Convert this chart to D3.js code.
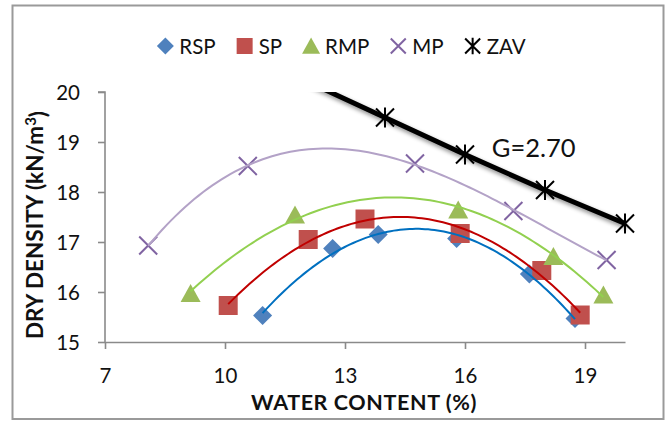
<!DOCTYPE html>
<html>
<head>
<meta charset="utf-8">
<script src="https://cdn.jsdelivr.net/npm/d3@7"></script>
<style>
  html, body { margin: 0; padding: 0; background: #fff; }
  svg { display: block; font-family: Lato, "Open Sans", sans-serif; }
</style>
</head>
<body>
<svg id="chart" width="669" height="428"></svg>
<script>
// Compaction curves: water content (%) vs dry density (kN/m3)
const seriesNames = ["RSP", "SP", "RMP", "MP", "ZAV"];

const rspWater = [10.94, 12.69, 13.83, 15.79, 17.61, 18.75];
const rspDensity = [15.53, 16.87, 17.15, 17.07, 16.36, 15.47];

const spWater = [10.08, 12.08, 13.50, 15.88, 17.92, 18.88];
const spDensity = [15.73, 17.05, 17.46, 17.17, 16.43, 15.54];

const rmpWater = [9.14, 11.75, 15.83, 18.21, 19.46];
const rmpDensity = [15.97, 17.54, 17.64, 16.71, 15.94];

const mpWater = [8.08, 10.57, 14.75, 17.21, 19.54];
const mpDensity = [16.93, 18.52, 18.57, 17.62, 16.64];

// zero-air-voids line, G = 2.70
const zavWater = [12, 14, 16, 18, 20];
const zavDensity = [20.23, 19.49, 18.75, 18.04, 17.37];

const xTicks = [7, 10, 13, 16, 19];
const yTicks = [15, 16, 17, 18, 19, 20];
const annotation = { text: "G=2.70", water: 16.67, density: 18.70 };

const svg = d3.select("#chart");
const x = d3.scaleLinear().domain([7, 20]).range([105, 625]);
const y = d3.scaleLinear().domain([15, 20]).range([342, 92]);

// chart frame
svg.append("rect")
  .attr("x", 12.5).attr("y", 5.5).attr("width", 651).attr("height", 413.5)
  .attr("fill", "#fff").attr("stroke", "#9a9a9a").attr("stroke-width", 2);

const defs = svg.append("defs");
defs.append("clipPath").attr("id", "plotClip")
  .append("rect").attr("x", x(7)).attr("y", y(20))
  .attr("width", x(20) - x(7) + 20).attr("height", y(15) - y(20));
const shadow = defs.append("filter").attr("id", "lineShadow")
  .attr("x", "-10%").attr("y", "-20%").attr("width", "130%").attr("height", "160%");
shadow.append("feDropShadow").attr("dx", 2).attr("dy", 3)
  .attr("stdDeviation", 2.2).attr("flood-color", "#000").attr("flood-opacity", 0.45);

// axes
const axisColor = "#8a8a8a";
const yAxis = svg.append("g").attr("transform", `translate(${x(7)},0)`)
  .call(d3.axisLeft(y).tickValues(yTicks).tickSize(7).tickPadding(18).tickFormat(d3.format("d")));
const xAxis = svg.append("g").attr("transform", `translate(0,${y(15)})`)
  .call(d3.axisBottom(x).tickValues(xTicks).tickSize(7).tickSizeOuter(0).tickPadding(19).tickFormat(d3.format("d")));
yAxis.call(g => g.select(".domain").attr("d", `M-7,${y(20)}H0V${y(15)}`));
[xAxis, yAxis].forEach(g => {
  g.selectAll(".domain, line").attr("stroke", axisColor).attr("stroke-width", 1.6);
  g.selectAll("text").attr("font-size", 20.5).attr("fill", "#111")
    .attr("font-family", "Lato, 'Open Sans', sans-serif");
});
yAxis.selectAll("text").attr("dy", "0.35em");

// axis titles
svg.append("text")
  .attr("x", (x(7) + x(20)) / 2 - 1).attr("y", 410)
  .attr("text-anchor", "middle").attr("font-size", 21.5).attr("font-weight", "bold")
  .attr("letter-spacing", 0.6)
  .attr("fill", "#111").text("WATER CONTENT (%)");
const yTitle = svg.append("text")
  .attr("transform", `translate(43,${(y(15) + y(20)) / 2 + 8}) rotate(-90)`)
  .attr("text-anchor", "middle").attr("font-size", 22.5).attr("font-weight", "bold")
  .attr("fill", "#111");
yTitle.append("tspan").text("DRY DENSITY (kN/m");
yTitle.append("tspan").attr("dy", "-0.45em").attr("font-size", 15).text("3");
yTitle.append("tspan").attr("dy", "0.45em").text(")");

// marker shapes
const markers = {
  diamond: r => `M0,${-r}L${r},0L0,${r}L${-r},0Z`,
  square: r => `M${-r},${-r}H${r}V${r}H${-r}Z`,
  triangle: r => `M0,${-r * 0.95}L${r},${r * 0.85}L${-r},${r * 0.85}Z`,
  cross: r => `M${-r},${-r}L${r},${r}M${-r},${r}L${r},${-r}`,
  star: r => `M${-r},${-r}L${r},${r}M${-r},${r}L${r},${-r}M0,${-r * 1.1}V${r * 1.1}`
};

const series = [
  { name: "RSP", water: rspWater, density: rspDensity, shape: "diamond", size: 9.5, legendSize: 8.5,
    fill: "#4F81BD", stroke: "none", trend: "#0070C0", order: 2 },
  { name: "SP", water: spWater, density: spDensity, shape: "square", size: 9.5, legendSize: 8,
    fill: "#C0504D", stroke: "none", trend: "#C00000", order: 2 },
  { name: "RMP", water: rmpWater, density: rmpDensity, shape: "triangle", size: 10, legendSize: 9,
    fill: "#9BBB59", stroke: "none", trend: "#92D050", order: 2 },
  { name: "MP", water: mpWater, density: mpDensity, shape: "cross", size: 9, legendSize: 7.5,
    fill: "none", stroke: "#8064A2", trend: "#B3A2C7", order: 3 },
  { name: "ZAV", water: zavWater, density: zavDensity, shape: "star", size: 9, legendSize: 7.5,
    fill: "none", stroke: "#000", trend: null }
];

// least squares polynomial trendline
function polyFit(xs, ys, order) {
  const m = order + 1;
  const A = [];
  for (let r = 0; r < m; r++) {
    const row = [];
    for (let c = 0; c < m; c++) row.push(d3.sum(xs, v => Math.pow(v, r + c)));
    row.push(d3.sum(xs, (v, i) => ys[i] * Math.pow(v, r)));
    A.push(row);
  }
  for (let c = 0; c < m; c++) {
    for (let r = c + 1; r < m; r++) {
      const f = A[r][c] / A[c][c];
      for (let k = c; k <= m; k++) A[r][k] -= f * A[c][k];
    }
  }
  const b = new Array(m).fill(0);
  for (let r = m - 1; r >= 0; r--) {
    let v = A[r][m];
    for (let k = r + 1; k < m; k++) v -= A[r][k] * b[k];
    b[r] = v / A[r][r];
  }
  return w => b.reduce((acc, coef, k) => acc + coef * Math.pow(w, k), 0);
}

const plot = svg.append("g");
const pathLine = d3.line().x(d => x(d[0])).y(d => y(d[1]));

// ZAV line
const zav = series[4];
plot.append("path")
  .attr("clip-path", "url(#plotClip)")
  .attr("d", pathLine(zav.water.map((w, i) => [w, zav.density[i]])))
  .attr("fill", "none").attr("stroke", "#000").attr("stroke-width", 5)
  .attr("stroke-linejoin", "round").attr("filter", "url(#lineShadow)");

// data markers
series.forEach(s => {
  const pts = s.water.map((w, i) => [w, s.density[i]]).filter(p => p[1] <= 20);
  plot.append("g").selectAll("path").data(pts).join("path")
    .attr("transform", d => `translate(${x(d[0])},${y(d[1])})`)
    .attr("d", markers[s.shape](s.size))
    .attr("fill", s.fill).attr("stroke", s.stroke)
    .attr("stroke-width", s.stroke === "none" ? 0 : 2);
});

// trendlines
series.filter(s => s.trend).forEach(s => {
  const f = polyFit(s.water, s.density, s.order);
  const lo = d3.min(s.water), hi = d3.max(s.water);
  const pts = d3.range(0, 101).map(i => { const w = lo + (hi - lo) * i / 100; return [w, f(w)]; });
  plot.append("path").attr("d", pathLine(pts))
    .attr("fill", "none").attr("stroke", s.trend).attr("stroke-width", 2);
});

// annotation
svg.append("text")
  .attr("x", x(annotation.water)).attr("y", y(annotation.density))
  .attr("font-size", 25.5).attr("fill", "#111").text(annotation.text);

// legend
const legend = svg.append("g");
let cursor = 0;
series.forEach(s => {
  const g = legend.append("g");
  g.append("path").attr("transform", `translate(${cursor + 9},46)`)
    .attr("d", markers[s.shape](s.legendSize))
    .attr("fill", s.fill).attr("stroke", s.stroke)
    .attr("stroke-width", s.stroke === "none" ? 0 : 2);
  const t = g.append("text").attr("x", cursor + 23).attr("y", 53.5)
    .attr("font-size", 20.5).attr("fill", "#111").text(s.name);
  cursor += 23 + t.node().getComputedTextLength() + 20;
});
const legendWidth = cursor - 20;
legend.attr("transform", `translate(${341 - legendWidth / 2},0)`);
</script>
</body>
</html>
